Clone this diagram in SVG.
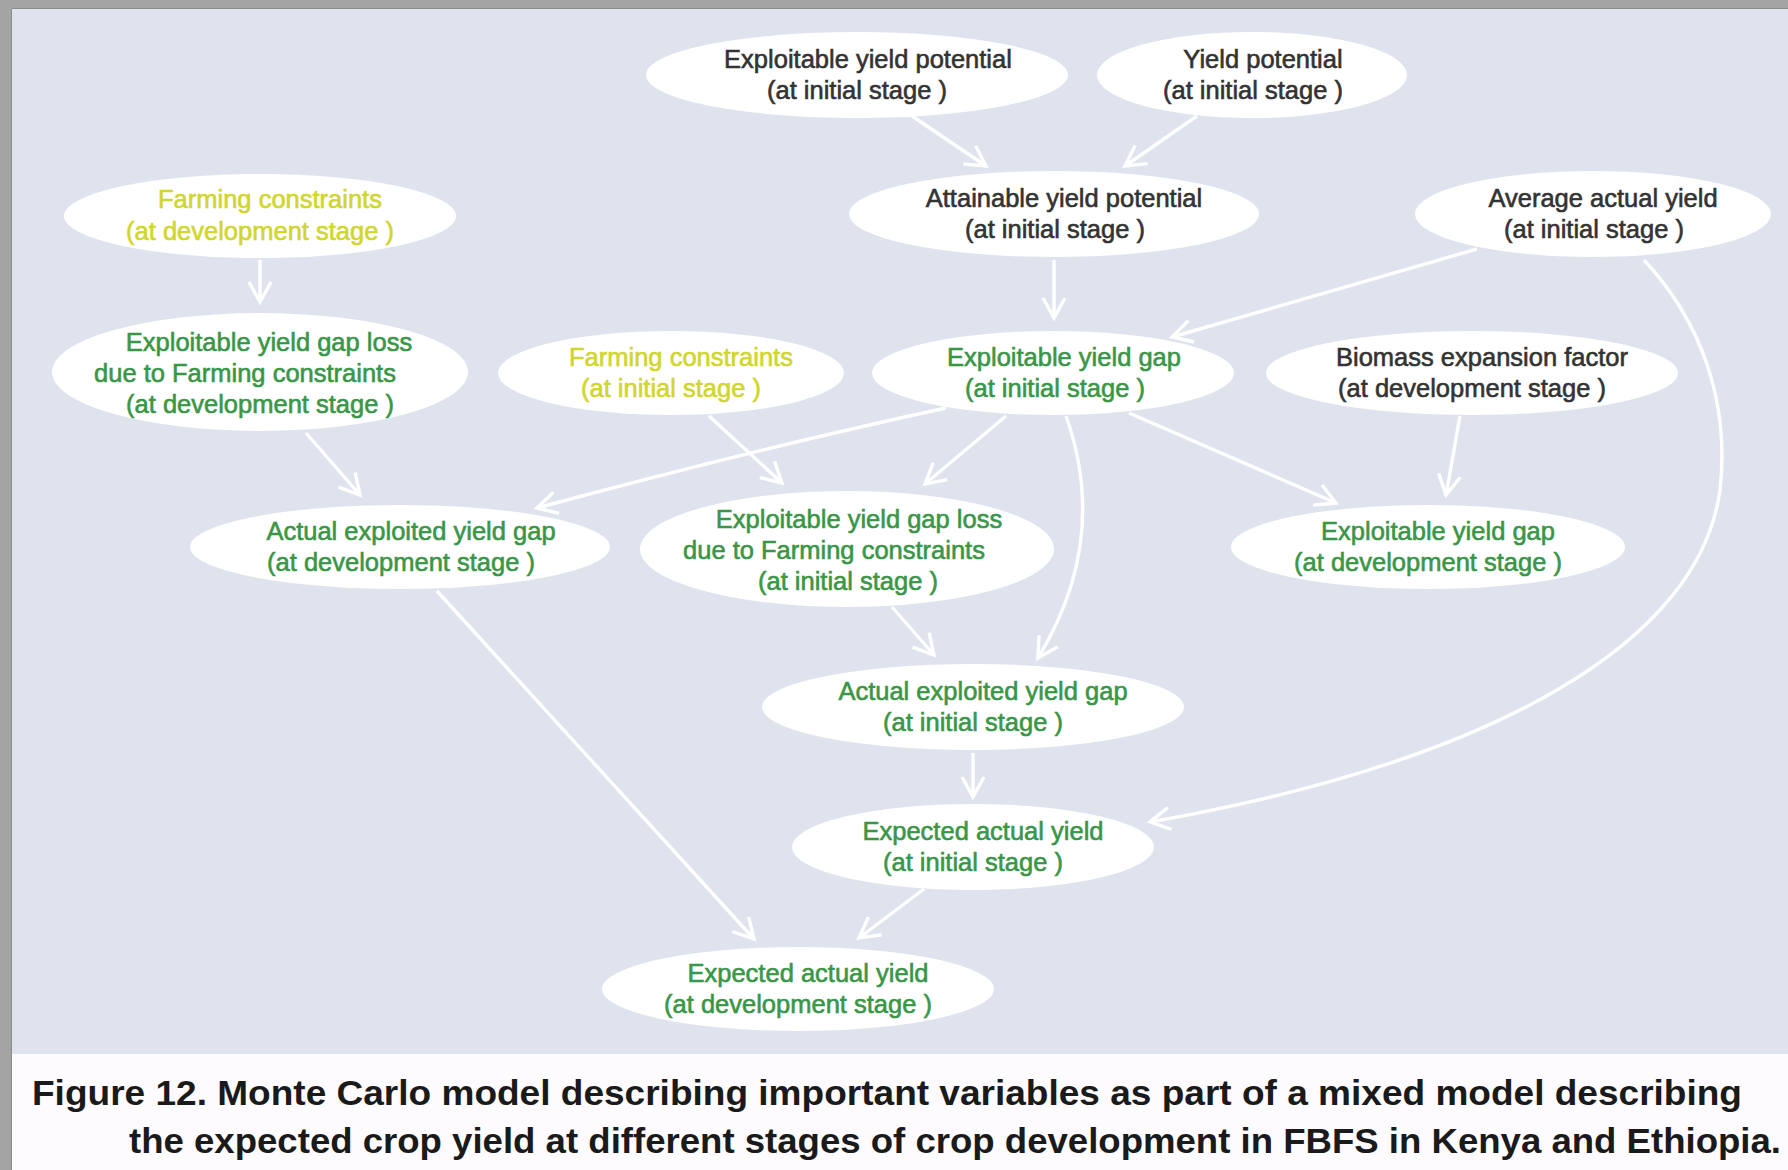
<svg xmlns="http://www.w3.org/2000/svg" width="1788" height="1170" viewBox="0 0 1788 1170">
<style>
.n{fill:#ffffff}
.t{font-family:"Liberation Sans",Arial,sans-serif;font-size:25.5px;text-anchor:middle;stroke-width:0.6px}
.k{fill:#333333;stroke:#333333}
.g{fill:#3a9647;stroke:#3a9647}
.y{fill:#d0d62c;stroke:#d0d62c}
.e{fill:none;stroke:#ffffff;stroke-width:3.4;marker-end:url(#arr)}
.cap{font-family:"Liberation Sans",Arial,sans-serif;font-weight:bold;font-size:35px;fill:#1a1a1a}
</style>
<defs>
<marker id="arr" viewBox="0 0 28 28" refX="24" refY="14" markerWidth="28" markerHeight="28" markerUnits="userSpaceOnUse" orient="auto">
<path d="M4,3 L24,14 L4,25" fill="none" stroke="#ffffff" stroke-width="3.4"/>
</marker>
</defs>
<rect x="0" y="0" width="1788" height="1170" fill="#a4a4a4"/>
<rect x="12" y="9" width="1776" height="1045" fill="#dee3ee"/>
<rect x="12" y="1054" width="1776" height="116" fill="#fdfbfe"/>
<line x1="11.5" y1="9" x2="11.5" y2="1170" stroke="#8c8c8c" stroke-width="1"/>
<line x1="12" y1="8.5" x2="1788" y2="8.5" stroke="#8c8c8c" stroke-width="1"/>

<g id="connectors">
<line class="e" x1="912" y1="116" x2="986" y2="166"/>
<line class="e" x1="1197" y1="116" x2="1125" y2="166"/>
<line class="e" x1="1054" y1="260" x2="1054" y2="318"/>
<line class="e" x1="1477" y1="249" x2="1172" y2="337"/>
<line class="e" x1="260" y1="260" x2="260" y2="302"/>
<line class="e" x1="306" y1="433" x2="360" y2="495"/>
<line class="e" x1="709" y1="416" x2="782" y2="483"/>
<path class="e" d="M946,408 Q760,448 537,508"/>
<line class="e" x1="1006" y1="416" x2="925" y2="484"/>
<path class="e" d="M1066,416 Q1110,540 1038,658"/>
<line class="e" x1="1129" y1="413" x2="1336" y2="503"/>
<line class="e" x1="1460" y1="416" x2="1446" y2="495"/>
<line class="e" x1="892" y1="607" x2="934" y2="655"/>
<line class="e" x1="973" y1="753" x2="973" y2="797"/>
<path class="e" d="M1644,260 C1700,320 1730,400 1720,490 C1700,640 1500,760 1150,822"/>
<line class="e" x1="437" y1="591" x2="754" y2="939"/>
<line class="e" x1="924" y1="889" x2="859" y2="938"/>
</g>

<g id="n-exploitable-yield-potential">
<ellipse class="n" cx="857" cy="75" rx="211" ry="43"/>
<text class="t k" x="868" y="68">Exploitable yield potential</text>
<text class="t k" x="857" y="99">(at initial stage )</text>
</g>
<g id="n-yield-potential">
<ellipse class="n" cx="1252" cy="75" rx="155" ry="43"/>
<text class="t k" x="1263" y="68">Yield potential</text>
<text class="t k" x="1253" y="99">(at initial stage )</text>
</g>
<g id="n-attainable-yield-potential">
<ellipse class="n" cx="1054" cy="214" rx="205" ry="43"/>
<text class="t k" x="1064" y="207">Attainable yield potential</text>
<text class="t k" x="1055" y="238">(at initial stage )</text>
</g>
<g id="n-average-actual-yield">
<ellipse class="n" cx="1593" cy="214" rx="178" ry="43"/>
<text class="t k" x="1603" y="207">Average actual yield</text>
<text class="t k" x="1594" y="238">(at initial stage )</text>
</g>
<g id="n-farming-constraints-dev">
<ellipse class="n" cx="260" cy="216" rx="196" ry="42"/>
<text class="t y" x="270" y="208">Farming constraints</text>
<text class="t y" x="260" y="240">(at development stage )</text>
</g>
<g id="n-eyg-loss-dev">
<ellipse class="n" cx="260" cy="372" rx="208" ry="59"/>
<text class="t g" x="269" y="351">Exploitable yield gap loss</text>
<text class="t g" x="245" y="382">due to Farming constraints</text>
<text class="t g" x="260" y="413">(at development stage )</text>
</g>
<g id="n-farming-constraints-init">
<ellipse class="n" cx="671" cy="373" rx="173" ry="42"/>
<text class="t y" x="681" y="366">Farming constraints</text>
<text class="t y" x="671" y="397">(at initial stage )</text>
</g>
<g id="n-eyg-init">
<ellipse class="n" cx="1053" cy="373" rx="181" ry="42"/>
<text class="t g" x="1064" y="366">Exploitable yield gap</text>
<text class="t g" x="1055" y="397">(at initial stage )</text>
</g>
<g id="n-biomass">
<ellipse class="n" cx="1472" cy="373" rx="206" ry="42"/>
<text class="t k" x="1482" y="366">Biomass expansion factor</text>
<text class="t k" x="1472" y="397">(at development stage )</text>
</g>
<g id="n-aeyg-dev">
<ellipse class="n" cx="400" cy="547" rx="210" ry="42"/>
<text class="t g" x="411" y="540">Actual exploited yield gap</text>
<text class="t g" x="401" y="571">(at development stage )</text>
</g>
<g id="n-eyg-loss-init">
<ellipse class="n" cx="847" cy="549" rx="207" ry="58"/>
<text class="t g" x="859" y="528">Exploitable yield gap loss</text>
<text class="t g" x="834" y="559">due to Farming constraints</text>
<text class="t g" x="848" y="590">(at initial stage )</text>
</g>
<g id="n-eyg-dev">
<ellipse class="n" cx="1428" cy="547" rx="197" ry="42"/>
<text class="t g" x="1438" y="540">Exploitable yield gap</text>
<text class="t g" x="1428" y="571">(at development stage )</text>
</g>
<g id="n-aeyg-init">
<ellipse class="n" cx="973" cy="707" rx="211" ry="43"/>
<text class="t g" x="983" y="700">Actual exploited yield gap</text>
<text class="t g" x="973" y="731">(at initial stage )</text>
</g>
<g id="n-eay-init">
<ellipse class="n" cx="973" cy="847" rx="181" ry="43"/>
<text class="t g" x="983" y="840">Expected actual yield</text>
<text class="t g" x="973" y="871">(at initial stage )</text>
</g>
<g id="n-eay-dev">
<ellipse class="n" cx="798" cy="989" rx="196" ry="42"/>
<text class="t g" x="808" y="982">Expected actual yield</text>
<text class="t g" x="798" y="1013">(at development stage )</text>
</g>

<g id="caption">
<text class="cap" x="32" y="1105" textLength="1710" lengthAdjust="spacingAndGlyphs">Figure 12. Monte Carlo model describing important variables as part of a mixed model describing</text>
<text class="cap" x="129" y="1153" textLength="1652" lengthAdjust="spacingAndGlyphs">the expected crop yield at different stages of crop development in FBFS in Kenya and Ethiopia.</text>
</g>
</svg>
